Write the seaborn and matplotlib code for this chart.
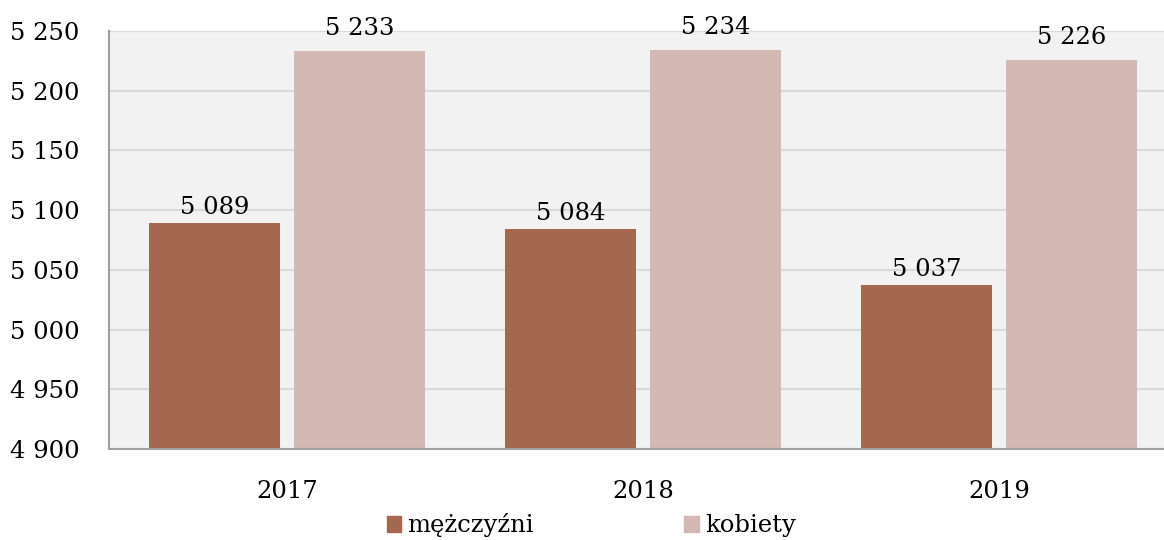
import pandas as pd
import numpy as np
import matplotlib.pyplot as plt
import seaborn as sns
from matplotlib.ticker import FuncFormatter
from matplotlib.patches import Patch

years = ['2017', '2018', '2019']
men = [5089, 5084, 5037]
women = [5233, 5234, 5226]
series = ['mężczyźni', 'kobiety']
colors = ['#a5674f', '#d4b8b3']

df = pd.DataFrame({
    'rok': years * 2,
    'wartosc': men + women,
    'plec': [series[0]] * 3 + [series[1]] * 3,
})

sns.set_style('white')
plt.rcParams['font.family'] = ['DejaVu Serif']
plt.rcParams['text.color'] = 'black'

fig = plt.figure(figsize=(11.64, 5.4), dpi=100)
# axes extends a bit beyond right edge, like the original
ax = fig.add_axes([109 / 1164, 1 - 449 / 540, (1177 - 109) / 1164, (449 - 31) / 540])
ax.set_facecolor('#f2f2f2')

sns.barplot(data=df, x='rok', y='wartosc', hue='plec', palette=colors,
            width=0.815, gap=0.103, ax=ax, legend=False, saturation=1, linewidth=0)

ax.set_ylim(4900, 5250)
ax.set_yticks(np.arange(4900, 5251, 50))
ax.yaxis.set_major_formatter(FuncFormatter(lambda v, p: f'{int(v):,}'.replace(',', ' ')))
ax.grid(axis='y', color='#d9d9d9', linewidth=1.5)
ax.set_axisbelow(True)
for s in ['top', 'right']:
    ax.spines[s].set_visible(False)
for s in ['left', 'bottom']:
    ax.spines[s].set_color('#a0a0a0')
    ax.spines[s].set_linewidth(1.5)
ax.tick_params(axis='both', length=0, labelsize=17.5, labelcolor='black')
ax.tick_params(axis='y', pad=21)
ax.tick_params(axis='x', pad=22)
ax.set_xlabel('')
ax.set_ylabel('')

# label offsets differ between series in the original
for c, pad in zip(ax.containers, [3, 8]):
    ax.bar_label(c, labels=[f'{int(v):,}'.replace(',', ' ') for v in c.datavalues],
                 fontsize=17.5, padding=pad, color='black')

handles = [Patch(color=colors[0], label=series[0]), Patch(color=colors[1], label=series[1])]
fig.legend(handles=handles, loc='center', bbox_to_anchor=(0.508, 0.027), ncol=2,
           frameon=False, fontsize=17.5, handlelength=0.6, handleheight=0.6,
           handletextpad=0.25, columnspacing=6.2)

fig.savefig('out.png', dpi=100)
